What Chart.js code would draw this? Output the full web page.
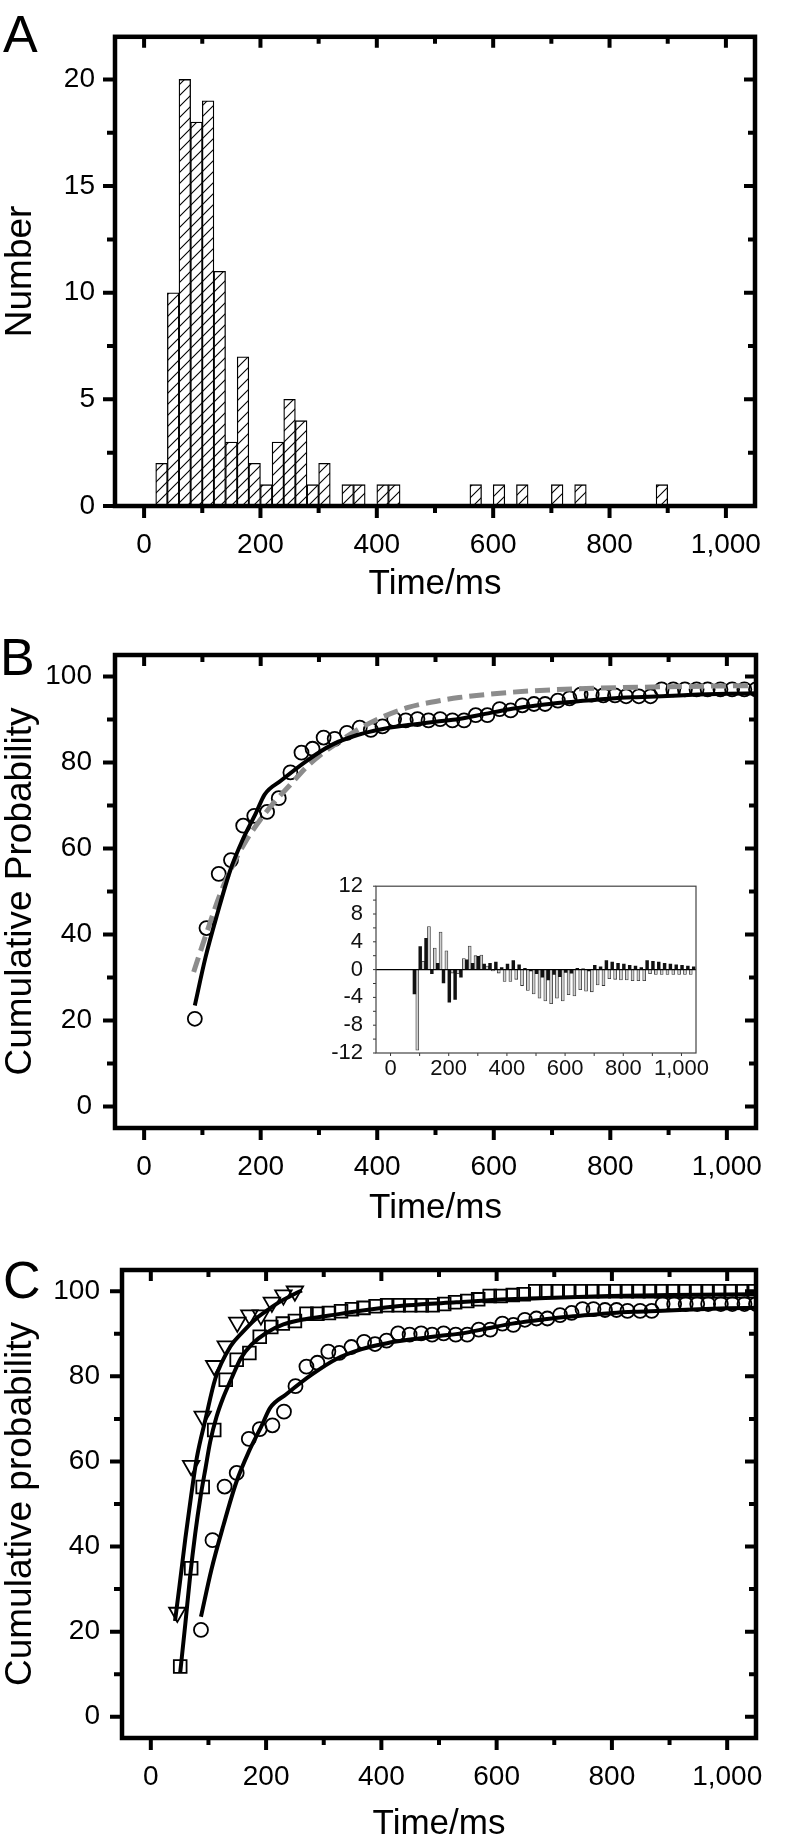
<!DOCTYPE html>
<html><head><meta charset="utf-8">
<script src="https://cdn.jsdelivr.net/npm/chart.js@4.4.1/dist/chart.umd.min.js"></script>
<style>
html,body{margin:0;padding:0;background:#fff;}
body{width:798px;height:1843px;position:relative;overflow:hidden;}
canvas{position:absolute;}
</style></head><body>
<canvas id="cA" width="798" height="600" style="left:0;top:0;width:798px;height:600px"></canvas>
<canvas id="cB" width="798" height="620" style="left:0;top:600px;width:798px;height:620px"></canvas>
<canvas id="cI" width="420" height="230" style="left:300px;top:860px;width:420px;height:230px"></canvas>
<canvas id="cC" width="798" height="623" style="left:0;top:1220px;width:798px;height:623px"></canvas>
<script>
// ---------- DATA ----------
// Shared x axis (Time/ms)
const xTickValues = [0, 200, 400, 600, 800, 1000];
const xTickLabels = ['0', '200', '400', '600', '800', '1,000'];
const xMinorTicks = [100, 300, 500, 700, 900];

// Panel A: histogram (bin start in ms, bin width 20 ms)
const histBinWidth = 20;
const histBinStart = [20, 40, 60, 80, 100, 120, 140, 160, 180, 200, 220, 240, 260, 280, 300, 340, 360, 400, 420, 560, 600, 640, 700, 740, 880];
const histCounts   = [2, 10, 20, 18, 19, 11, 3, 7, 2, 1, 3, 5, 4, 1, 2, 1, 1, 1, 1, 1, 1, 1, 1, 1, 1];
const aYTicks = [0, 5, 10, 15, 20];
const aYLabels = ['0', '5', '10', '15', '20'];
const aYMinor = [2.5, 7.5, 12.5, 17.5];

// Panel B / C: cumulative probability (circles)
const circX = [87,107,128,149,170,189,211,231,251,270,289,308,327,348,370,389,409,429,449,469,488,508,529,549,569,589,610,629,649,669,688,710,730,749,768,788,808,827,849,869,888,908,928,948,967,989,1009,1030,1050];
const circY = [20.4,41.5,54.1,57.3,65.3,67.6,68.5,71.7,77.7,82.3,83.2,85.8,85.5,86.9,88.1,87.6,88.4,90.1,89.8,90.1,89.8,90.1,89.8,89.8,91.0,91.0,92.4,92.1,93.3,93.6,93.6,94.4,94.9,95.8,95.8,95.6,95.6,95.4,95.4,95.4,97.0,97.0,97.0,97.0,97.0,97.0,97.0,97.0,97.0];
// solid fit through circles
const circFitX = [87,105,126,148,170,192,207,235,279,322,366,410,453,500,540,585,627,670,714,760,801,845,888,950,1000,1050];
const circFitY = [23.5,34.5,45,55,62.3,68.3,72.6,75.8,80.4,84.1,86.4,87.8,88.7,89.5,90.1,91.3,92.4,93.2,93.9,94.4,94.9,95.2,95.4,95.8,96.0,96.1];
// dashed (grey) fit
const dashFitX = [85,110,131,150,174,200,226,250,279,305,331,365,401,453,500,540,627,700,758,888,1050];
const dashFitY = [31.3,41.5,49.6,55.5,61.6,66.8,71.2,74.7,79,82,84.5,87.5,90.1,92.8,94.2,95.1,96.3,96.9,97.2,97.6,97.9];
const bYTicks = [0, 20, 40, 60, 80, 100];
const bYLabels = ['0', '20', '40', '60', '80', '100'];
const bYMinor = [10, 30, 50, 70, 90];

// Inset: residuals
const resBlackX = [82,102,122,142,162,182,202,222,242,262,282,302,322,342,362,382,402,422,442,462,482,502,522,542,562,582,602,622,642,662,682,702,722,742,762,782,802,822,842,862,882,902,922,942,962,982,1002,1022,1042];
const resBlackY = [-3.5,3.3,4.5,-0.6,0.9,-1.9,-4.7,-4.3,-1.1,1.4,0.9,1.9,0.8,0.9,1.1,0.3,0.8,1.3,0.7,0.2,-0.2,-0.6,-1.1,-1.5,-0.7,-1.0,-0.4,-0.5,0.2,0.1,-0.2,0.6,0.4,1.3,1.1,0.9,0.8,0.6,0.5,0.3,1.3,1.2,1.1,0.9,0.8,0.7,0.6,0.5,0.4];
const resGrayX = [92,112,132,152,172,192,212,232,252,272,292,312,332,352,372,392,412,432,452,472,492,512,532,552,572,592,612,632,652,672,692,712,732,752,772,792,812,832,852,872,892,912,932,952,972,992,1012,1032];
const resGrayY = [-11.6,1.2,6.2,3.1,5.4,2.7,-0.5,-0.6,1.6,3.4,2.0,2.1,0.5,-0.2,-0.5,-1.7,-1.7,-1.4,-2.3,-3.0,-3.5,-4.1,-4.5,-4.9,-4.1,-4.5,-3.6,-3.8,-2.9,-3.1,-3.2,-2.2,-2.3,-1.3,-1.4,-1.5,-1.5,-1.6,-1.6,-1.6,-0.6,-0.7,-0.7,-0.7,-0.7,-0.7,-0.7,-0.7];
const inYTicks = [12, 8, 4, 0, -4, -8, -12];
const inYLabels = ['12', '8', '4', '0', '-4', '-8', '-12'];
const inYMinor = [10, 6, 2, -2, -6, -10];

// Panel C: triangles and squares
const triX = [46,70,90,110,130,150,171,191,210,230,250];
const triY = [24.5,59,70.6,82.5,87.1,92.7,94.4,94.4,97.4,99.1,100];
const triFitX = [42,50,60,70,80,95,112,138,160,182,205,226,250,262];
const triFitY = [22.5,31,42,52,61,70,79.5,87,90.5,93.5,95.8,97.7,99.4,100.2];
const sqX = [51,70,90,110,130,149,171,189,209,229,250,270,289,309,330,349,369,390,410,430,450,470,489,509,528,549,568,588,607,628,647,667,686,706,726,746,766,786,806,826,846,866,886,906,926,946,966,986,1006,1026,1046];
const sqY = [11.8,34.9,54,67.4,79.2,83.9,85.5,89.3,91.6,92.4,93,94.7,94.7,94.9,95.3,95.8,96.1,96.5,96.7,96.7,96.7,96.7,96.7,97.0,97.4,97.7,98.1,98.9,98.9,99.1,99.3,100,100,100,100,100,100,100,100,100,100,100,100,100,100,100,100,100,100,100,100];
const sqFitX = [51,60,68,77,86,95,103,114,125,140,156,175,200,230,270,310,358,445,530,620,700,796,900,1050];
const sqFitY = [10.4,22,32.8,43,51.5,58.5,64.6,70.5,74.8,79.5,84.2,87.5,90.2,92.2,93.5,94.3,95.3,96.7,97.4,98.1,98.5,98.9,99.1,99.3];

// ---------- HELPERS ----------
const pts = (xs, ys) => xs.map((x, i) => ({x: x, y: ys[i]}));
Chart.defaults.font.family = "'Liberation Sans', Arial, Helvetica, sans-serif";
Chart.defaults.color = '#000';
Chart.defaults.animation = false;

const framePlugin = {
  id: 'frame',
  afterDraw(chart, args, o) {
    if (!o || !o.on) return;
    const ctx = chart.ctx, a = chart.chartArea, xs = chart.scales.x, ys = chart.scales.y;
    ctx.save();
    ctx.lineCap = 'butt';
    if (o.zeroLine) {
      const p = ys.getPixelForValue(0);
      ctx.strokeStyle = '#000'; ctx.lineWidth = 1.2;
      ctx.beginPath(); ctx.moveTo(a.left, p); ctx.lineTo(a.right, p); ctx.stroke();
    }
    ctx.strokeStyle = o.color; ctx.lineWidth = o.tickWidth;
    ctx.beginPath();
    const seg = (x1, y1, x2, y2) => { ctx.moveTo(x1, y1); ctx.lineTo(x2, y2); };
    const T = o.ticks;
    const X = (vals, f) => vals.forEach(v => f(xs.getPixelForValue(v)));
    const Y = (vals, f) => vals.forEach(v => f(ys.getPixelForValue(v)));
    X(o.xMajor, p => { seg(p, a.bottom, p, a.bottom + T.bMaj); if (T.tMaj) seg(p, a.top, p, a.top + T.tMaj); });
    X(o.xMinor, p => { seg(p, a.bottom, p, a.bottom + T.bMin); if (T.tMin) seg(p, a.top, p, a.top + T.tMin); });
    Y(o.yMajor, p => { seg(a.left - T.lMaj, p, a.left, p); if (T.rMaj) seg(a.right - T.rMaj, p, a.right, p); });
    Y(o.yMinor, p => { seg(a.left - T.lMin, p, a.left, p); if (T.rMin) seg(a.right - T.rMin, p, a.right, p); });
    ctx.stroke();
    ctx.lineWidth = o.frameWidth; ctx.strokeStyle = o.frameColor || o.color;
    ctx.strokeRect(a.left, a.top, a.right - a.left, a.bottom - a.top);
    if (o.letter) {
      ctx.fillStyle = '#000'; ctx.font = "52px 'Liberation Sans', Arial, sans-serif";
      ctx.textAlign = 'left'; ctx.textBaseline = 'alphabetic';
      ctx.fillText(o.letter, o.letterX, o.letterY);
    }
    ctx.restore();
  }
};
Chart.register(framePlugin);

const bigTicks = {bMaj: 12, bMin: 7, tMaj: 11, tMin: 7, lMaj: 12, lMin: 8, rMaj: 11, rMin: 7};

function xScale(H, frameBottom, titleCenter, labelPad) {
  return {
    type: 'linear', min: -50, max: 1050, offset: false,
    grid: {display: false, drawTicks: false}, border: {display: false},
    afterBuildTicks: s => { s.ticks = xTickValues.map(v => ({value: v})); },
    afterFit: s => { s.height = H - frameBottom; },
    ticks: {autoSkip: false, maxRotation: 0, minRotation: 0, font: {size: 28}, padding: labelPad,
      callback: (v, i) => xTickLabels[i]},
    title: {display: true, text: 'Time/ms', font: {size: 35}, color: '#000',
      padding: {top: 0, bottom: (H - titleCenter) - 21}}
  };
}
function yScale(min, max, vals, labels, frameLeft, labelPad, title) {
  return {
    type: 'linear', min: min, max: max,
    grid: {display: false, drawTicks: false}, border: {display: false},
    afterBuildTicks: s => { s.ticks = vals.map(v => ({value: v})); },
    afterFit: s => { s.width = frameLeft; },
    ticks: {autoSkip: false, font: {size: 28}, padding: labelPad, callback: (v, i) => labels[i]},
    title: {display: true, text: title, font: {size: 37}, color: '#000', padding: {top: -1.5, bottom: 0}}
  };
}

function hatchPattern() {
  const c = document.createElement('canvas'); c.width = 11; c.height = 11;
  const g = c.getContext('2d');
  g.fillStyle = '#fff'; g.fillRect(0, 0, 11, 11);
  g.strokeStyle = '#000'; g.lineWidth = 1.1;
  g.beginPath();
  g.moveTo(-2, 13); g.lineTo(13, -2);
  g.moveTo(-2, 2); g.lineTo(2, -2);
  g.moveTo(9, 13); g.lineTo(13, 9);
  g.stroke();
  return g.createPattern(c, 'repeat');
}

const lineDS = (xs, ys, extra) => Object.assign({
  type: 'line', data: pts(xs, ys), borderColor: '#000', borderWidth: 4, pointRadius: 0,
  cubicInterpolationMode: 'monotone', fill: false, showLine: true
}, extra || {});
const markDS = (xs, ys, style, r, extra) => Object.assign({
  type: 'line', data: pts(xs, ys), showLine: false, pointStyle: style, pointRadius: r,
  pointBorderColor: '#000', pointBackgroundColor: 'rgba(255,255,255,0)', pointBorderWidth: 1.8,
  borderColor: '#000', backgroundColor: 'rgba(255,255,255,0)'
}, extra || {});

// ---------- PANEL A ----------
const histData = histBinStart.map((s, i) => ({x: s + histBinWidth / 2, y: histCounts[i]}));
new Chart(document.getElementById('cA'), {
  type: 'bar',
  data: {datasets: [{data: histData, backgroundColor: hatchPattern(), borderColor: '#000', borderWidth: 1.3,
    borderSkipped: false, barPercentage: 1, categoryPercentage: 1}]},
  options: {
    responsive: false, devicePixelRatio: 1, animation: false,
    layout: {padding: {left: 0, right: 798 - 755, top: 31, bottom: 0}},
    plugins: {legend: {display: false}, tooltip: {enabled: false},
      frame: {on: true, color: '#000', tickWidth: 4, frameWidth: 4.5, ticks: bigTicks,
        xMajor: xTickValues, xMinor: xMinorTicks, yMajor: aYTicks, yMinor: aYMinor,
        letter: 'A', letterX: 3, letterY: 52}},
    scales: {x: xScale(600, 506, 584, 22), y: yScale(0, 22, aYTicks, aYLabels, 115, 20, 'Number')}
  }
});

// ---------- PANEL B ----------
new Chart(document.getElementById('cB'), {
  type: 'line',
  data: {datasets: [
    lineDS(circFitX, circFitY),
    lineDS(dashFitX, dashFitY, {borderColor: '#8c8c8c', borderWidth: 5, borderDash: [15, 7]}),
    markDS(circX, circY, 'circle', 7)
  ]},
  options: {
    responsive: false, devicePixelRatio: 1, animation: false,
    layout: {padding: {left: 0, right: 798 - 756, top: 55, bottom: 0}},
    plugins: {legend: {display: false}, tooltip: {enabled: false},
      frame: {on: true, color: '#000', tickWidth: 4, frameWidth: 4.5, ticks: bigTicks,
        xMajor: xTickValues, xMinor: xMinorTicks, yMajor: bYTicks, yMinor: bYMinor,
        letter: 'B', letterX: 0, letterY: 75}},
    scales: {x: xScale(620, 528, 608, 22), y: yScale(-5, 105, bYTicks, bYLabels, 115, 23, 'Cumulative Probability')}
  }
});

// ---------- INSET ----------
new Chart(document.getElementById('cI'), {
  type: 'bar',
  data: {datasets: [
    {data: pts(resBlackX, resBlackY), backgroundColor: '#111', borderColor: '#111', borderWidth: 0, barThickness: 2.8, grouped: false},
    {data: pts(resGrayX, resGrayY), backgroundColor: '#cfcfcf', borderColor: '#333', borderWidth: 0.8, barThickness: 3, grouped: false}
  ]},
  options: {
    responsive: false, devicePixelRatio: 1, animation: false,
    layout: {padding: {left: 0, right: 420 - 396, top: 17, bottom: 0}},
    plugins: {legend: {display: false}, tooltip: {enabled: false},
      frame: {on: true, color: '#333', frameColor: '#444', tickWidth: 1, frameWidth: 1.2, zeroLine: true,
        ticks: {bMaj: 3, bMin: 3, tMaj: 0, tMin: 0, lMaj: 3, lMin: 3, rMaj: 0, rMin: 0},
        xMajor: xTickValues, xMinor: xMinorTicks, yMajor: inYTicks, yMinor: inYMinor}},
    scales: {
      x: {type: 'linear', min: -50, max: 1050, offset: false,
        grid: {display: false, drawTicks: false}, border: {display: false},
        afterBuildTicks: s => { s.ticks = xTickValues.map(v => ({value: v})); },
        afterFit: s => { s.height = 230 - 193; },
        ticks: {autoSkip: false, maxRotation: 0, font: {size: 22}, padding: 3, color: '#111',
          callback: (v, i) => xTickLabels[i]}},
      y: {type: 'linear', min: -12, max: 12,
        grid: {display: false, drawTicks: false}, border: {display: false},
        afterBuildTicks: s => { s.ticks = inYTicks.map(v => ({value: v})); },
        afterFit: s => { s.width = 76; },
        ticks: {autoSkip: false, font: {size: 22}, padding: 13, color: '#111', callback: (v, i) => inYLabels[i]}}
    }
  }
});

// ---------- PANEL C ----------
new Chart(document.getElementById('cC'), {
  type: 'line',
  data: {datasets: [
    lineDS(triFitX, triFitY),
    lineDS(sqFitX, sqFitY),
    lineDS(circFitX, circFitY),
    markDS(triX, triY, 'triangle', 9.5, {pointRotation: 180}),
    markDS(sqX, sqY, 'rect', 9),
    markDS(circX, circY, 'circle', 7)
  ]},
  options: {
    responsive: false, devicePixelRatio: 1, animation: false,
    layout: {padding: {left: 0, right: 798 - 756, top: 50, bottom: 0}},
    plugins: {legend: {display: false}, tooltip: {enabled: false},
      frame: {on: true, color: '#000', tickWidth: 4, frameWidth: 4.5, ticks: bigTicks,
        xMajor: xTickValues, xMinor: xMinorTicks, yMajor: bYTicks, yMinor: bYMinor,
        letter: 'C', letterX: 3, letterY: 78}},
    scales: {x: xScale(623, 518, 604, 22), y: yScale(-5, 105, bYTicks, bYLabels, 122, 22, 'Cumulative probability')}
  }
});
</script>
</body></html>
